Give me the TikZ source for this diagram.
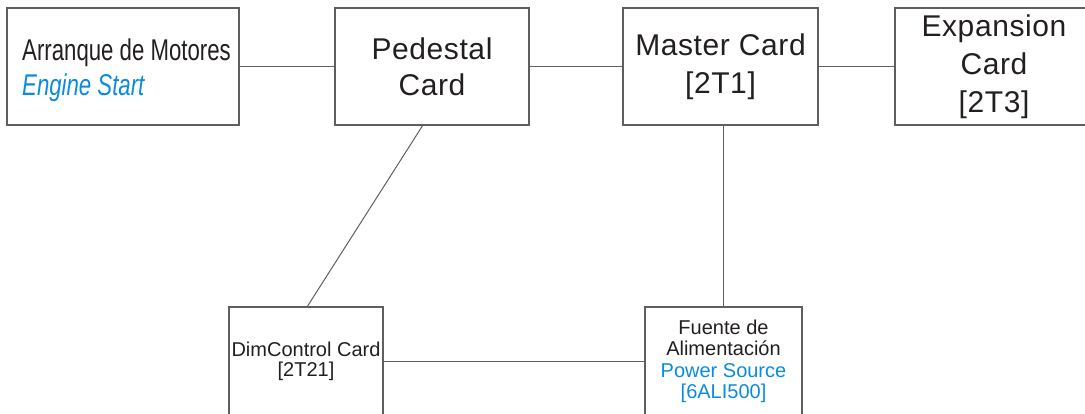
\documentclass[tikz,border=0pt]{standalone}
\usepackage{fontspec}
\setmainfont{Liberation Sans}
\newfontfamily\condsans[FakeStretch=0.74]{Liberation Sans}
\newfontfamily\widesans[LetterSpace=2]{Liberation Sans}
\definecolor{txtgray}{RGB}{35,31,32}
\definecolor{txtblue}{RGB}{10,140,222}
\definecolor{linegray}{RGB}{95,95,95}
\tikzset{
  card/.style={draw=linegray, line width=1.1pt, inner sep=0pt, outer sep=0pt, align=center, text=txtgray},
  bigcard/.style={card, font=\widesans\fontsize{30}{38}\selectfont},
  smallcard/.style={card, font=\fontsize{20}{21.5}\selectfont},
  wire/.style={draw=linegray, line width=1pt}
}
\begin{document}
\begin{tikzpicture}[x=1pt,y=-1pt]
\useasboundingbox (0,0) rectangle (1085,414);
\clip (0,0) rectangle (1085,414);
\node[card, minimum width=232pt, minimum height=117pt, align=left,
      font=\condsans\fontsize{30}{35}\selectfont] (eng) at (123,66.5)
  {\rule{0pt}{30pt}\hspace*{7pt}Arranque de Motores\\\hspace*{7pt}\textcolor{txtblue}{\itshape Engine Start}};
\node[bigcard, minimum width=194pt, minimum height=117pt,
      font=\widesans\fontsize{30}{36}\selectfont] (ped) at (432,66.5) {Pedestal\\Card};
\node[bigcard, minimum width=195pt, minimum height=117pt] (mas) at (720.5,66.5) {Master Card\\{[2T1]}};
\node[bigcard, minimum width=198pt, minimum height=117pt] (exp) at (994,66.5) {Expansion\\Card\\{[2T3]}};
\node[smallcard, minimum width=154pt, minimum height=109pt,
      font=\fontsize{20}{20.5}\selectfont] (dim) at (306,361.5) {DimControl Card\\{[2T21]}};
\node[smallcard, minimum width=157pt, minimum height=109pt] (fue) at (723.5,361.5)
  {Fuente de\\Alimentación\\\textcolor{txtblue}{Power Source}\\\textcolor{txtblue}{[6ALI500]}};
\draw[wire] (eng.east) -- (ped.west);
\draw[wire] (ped.east) -- (mas.west);
\draw[wire] (mas.east) -- (exp.west);
\draw[wire] (fue.north) -- (fue.north |- mas.south);
\draw[wire] ([xshift=-9pt]ped.south) -- ([xshift=1pt]dim.north);
\draw[wire] (dim.east) -- (dim.east -| fue.west);
\end{tikzpicture}
\end{document}
